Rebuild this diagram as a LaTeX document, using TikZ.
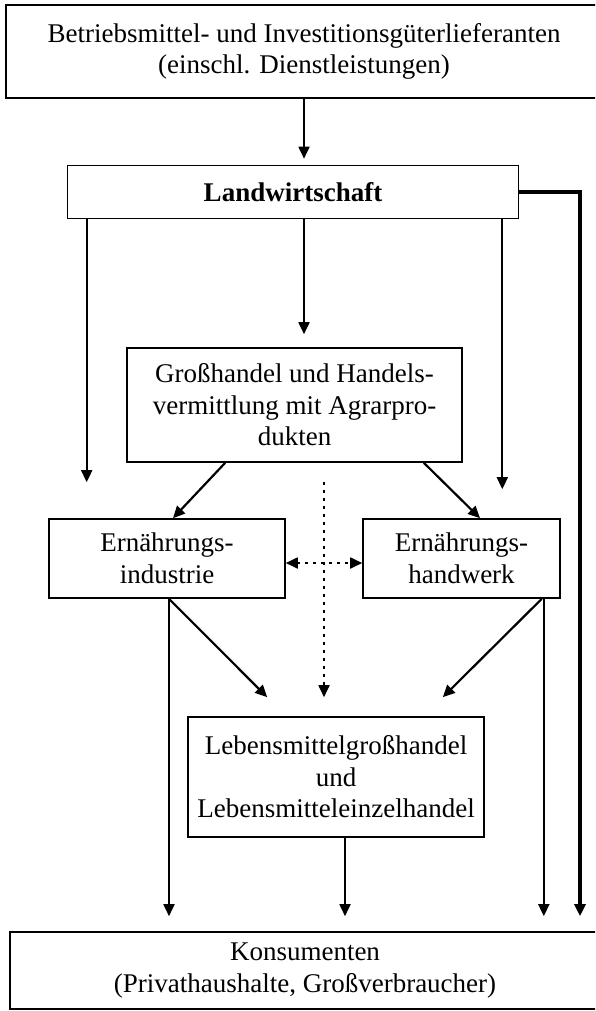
\documentclass[tikz,border=0pt]{standalone}
\usepackage{fontspec}
\setmainfont{Liberation Serif}
\usetikzlibrary{arrows.meta}

\begin{document}
\begin{tikzpicture}[x=1pt,y=-1pt,
  font=\fontsize{27}{31.5}\selectfont,
  box/.style={draw,line width=1.6pt,align=center,inner sep=0pt},
  arr/.style={line width=1.8pt,-{Triangle[length=12pt,width=11pt]}},
  dots/.style={line width=1.8pt,dash pattern=on 3pt off 5pt}]
\useasboundingbox (0,0) rectangle (595,1011);
\clip (0,0) rectangle (595,1011);
% boxes
\node[box,minimum width=606pt,minimum height=93pt] (lief) at (309,51.5)
  {\hspace*{-10pt}Betriebsmittel- und Investitionsgüterlieferanten\\\hspace*{-10pt}(einschl. Dienstleistungen)};
\node[box,minimum width=451pt,minimum height=53pt] (land) at (293,192)
  {\textbf{Landwirtschaft}};
\node[box,minimum width=335pt,minimum height=114pt] (gross) at (294.5,405)
  {Großhandel und Handels-\\vermittlung mit Agrarpro-\\dukten};
\node[box,minimum width=236pt,minimum height=79pt] (ind) at (167,558.5)
  {Ernährungs-\\industrie};
\node[box,minimum width=197pt,minimum height=79pt] (hand) at (461.5,558.5)
  {Ernährungs-\\handwerk};
\node[box,minimum width=296pt,minimum height=120pt] (leb) at (336,777)
  {Lebensmittelgroßhandel\\und\\Lebensmitteleinzelhandel};
\node[box,minimum width=600pt,minimum height=77pt] (kons) at (310,970.5)
  {\hspace*{-10pt}Konsumenten\\\hspace*{-10pt}(Privathaushalte, Großverbraucher)};
\coordinate (ecke) at (580,192);
\coordinate (punkt) at (324,482);
% connectors
\draw[arr,shorten >=6pt] ([xshift=-5pt]lief.south) -- ([xshift=-5pt]lief.south |- land.north);
\draw[arr,shorten >=13pt] ([xshift=-5pt]lief.south |- land.south) -- ([xshift=-5pt]lief.south |- gross.north);
\draw[arr,shorten >=36pt] ([xshift=20pt]land.south west) -- ([xshift=20pt]land.south west |- ind.north);
\draw[arr,shorten >=29pt] ([xshift=-17pt]land.south east) -- ([xshift=-17pt]land.south east |- hand.north);
\draw[arr,line width=3.2pt,shorten >=15pt] (land.east) -- (ecke) -- (ecke |- kons.north);
\draw[arr,line width=2.2pt] ([xshift=99pt]gross.south west) -- ([xshift=6pt]ind.north);
\draw[arr,line width=2.2pt] ([xshift=-39pt]gross.south east) -- ([xshift=18.5pt]hand.north);
\draw[arr,dots,shorten >=19pt] (punkt) -- (punkt |- leb.north);
\draw[dots,{Triangle[length=12pt,width=11pt]}-{Triangle[length=12pt,width=11pt]}]
  ([yshift=-4.5pt]ind.east) -- ([yshift=-4.5pt]hand.west);
\draw[arr,shorten >=15pt] ([xshift=2pt]ind.south) -- ([xshift=2pt]ind.south |- kons.north);
\draw[arr,line width=2.2pt] ([xshift=2pt]ind.south) -- ([xshift=80pt,yshift=19pt]leb.north west);
\draw[arr,shorten >=15pt] ([xshift=-17pt]hand.south east) -- ([xshift=-17pt]hand.south east |- kons.north);
\draw[arr,line width=2.2pt] ([xshift=-19pt]hand.south east) -- ([xshift=-42pt,yshift=19pt]leb.north east);
\draw[arr,shorten >=15pt] ([xshift=9pt]leb.south) -- ([xshift=9pt]leb.south |- kons.north);
\end{tikzpicture}
\end{document}
